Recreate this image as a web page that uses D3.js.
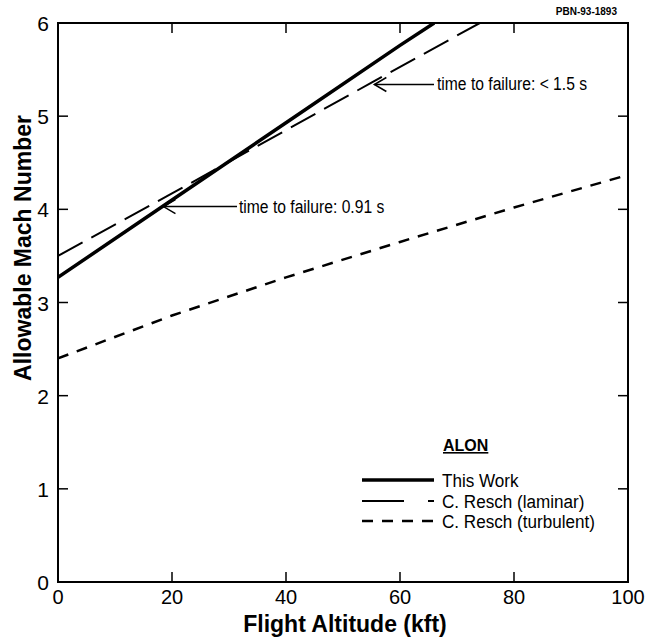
<!DOCTYPE html>
<html lang="en">
<head>
<meta charset="utf-8">
<script src="https://cdn.jsdelivr.net/npm/d3@7"></script>
<style>
  body { margin: 0; background: white; }
  text { font-family: "Liberation Sans", Arial, Helvetica, sans-serif; fill: black; }
</style>
</head>
<body>
<div id="chart"></div>
<script>
// data
var xTicks = [0, 20, 40, 60, 80, 100];
var yTicks = [0, 1, 2, 3, 4, 5, 6];
var thisWork = [[0, 3.27], [20, 4.1], [40, 4.93], [60, 5.76], [66, 6.0]];
var reschLaminar = [[0, 3.5], [20, 4.17], [40, 4.85], [55, 5.36], [74, 6.0]];
var reschTurbulent = [[0, 2.4], [20, 2.86], [40, 3.27], [60, 3.65], [80, 4.02], [100, 4.37]];
var legendNames = ["This Work", "C. Resch (laminar)", "C. Resch (turbulent)"];

var width = 646, height = 641;
var margin = {top: 23, right: 18, bottom: 59, left: 58};

var svg = d3.select("#chart").append("svg")
    .attr("width", width)
    .attr("height", height);

var x = d3.scaleLinear().domain([0, 100]).range([margin.left, width - margin.right]);
var y = d3.scaleLinear().domain([0, 6]).range([height - margin.bottom, margin.top]);

// clip
svg.append("clipPath").attr("id", "clip")
  .append("rect")
    .attr("x", x(0)).attr("y", y(6))
    .attr("width", x(100) - x(0)).attr("height", y(0) - y(6));

// frame
svg.append("rect")
    .attr("x", x(0)).attr("y", y(6))
    .attr("width", x(100) - x(0)).attr("height", y(0) - y(6))
    .attr("fill", "none").attr("stroke", "black").attr("stroke-width", 2);

// inward ticks on all sides
var tickLen = 10;
var axes = svg.append("g").attr("stroke", "black").attr("stroke-width", 1.5);
xTicks.slice(1, -1).forEach(function(t) {
  axes.append("line").attr("x1", x(t)).attr("x2", x(t)).attr("y1", y(0)).attr("y2", y(0) - tickLen);
  axes.append("line").attr("x1", x(t)).attr("x2", x(t)).attr("y1", y(6)).attr("y2", y(6) + tickLen);
});
yTicks.slice(1, -1).forEach(function(t) {
  axes.append("line").attr("x1", x(0)).attr("x2", x(0) + tickLen).attr("y1", y(t)).attr("y2", y(t));
  axes.append("line").attr("x1", x(100)).attr("x2", x(100) - tickLen).attr("y1", y(t)).attr("y2", y(t));
});

// tick labels
svg.append("g").selectAll("text").data(xTicks).enter().append("text")
    .attr("x", function(d) { return x(d); })
    .attr("y", y(0) + 22)
    .attr("text-anchor", "middle")
    .style("font-size", "20px")
    .text(function(d) { return d; });

svg.append("g").selectAll("text").data(yTicks).enter().append("text")
    .attr("x", x(0) - 9)
    .attr("y", function(d) { return y(d) + 8; })
    .attr("text-anchor", "end")
    .style("font-size", "21px")
    .text(function(d) { return d; });

// axis titles
svg.append("text")
    .attr("x", 345).attr("y", 632)
    .attr("text-anchor", "middle")
    .style("font-size", "23px").style("font-weight", "bold")
    .text("Flight Altitude (kft)");

svg.append("text")
    .attr("transform", "translate(31,248) rotate(-90)")
    .attr("text-anchor", "middle")
    .style("font-size", "23px").style("font-weight", "bold")
    .text("Allowable Mach Number");

svg.append("text")
    .attr("x", 617).attr("y", 15)
    .attr("text-anchor", "end")
    .style("font-size", "10px").style("font-weight", "bold")
    .text("PBN-93-1893");

// lines
var line = d3.line().x(function(d) { return x(d[0]); }).y(function(d) { return y(d[1]); });
var styles = [
  {data: thisWork, width: 3.5, dash: null},
  {data: reschLaminar, width: 2, dash: "28,10"},
  {data: reschTurbulent, width: 2.5, dash: "11,9"}
];
var plot = svg.append("g").attr("clip-path", "url(#clip)");
styles.forEach(function(s) {
  plot.append("path")
      .attr("d", line(s.data))
      .attr("fill", "none")
      .attr("stroke", "black")
      .attr("stroke-width", s.width)
      .attr("stroke-dasharray", s.dash);
});

// annotations
function arrow(x1, y1, x2, y2) {
  var g = svg.append("g").attr("stroke", "black").attr("fill", "none").attr("stroke-width", 1.5);
  g.append("line").attr("x1", x1).attr("y1", y1).attr("x2", x2).attr("y2", y2);
  g.append("path").attr("d", "M" + (x2 + 12) + "," + (y2 - 7) + "L" + x2 + "," + y2 + "L" + (x2 + 12) + "," + (y2 + 7));
}
arrow(237, y(4.03), x(18.5), y(4.03));
arrow(434, y(5.34), x(55.5), y(5.34));

function note(xp, yp, str) {
  svg.append("text")
      .attr("transform", "translate(" + xp + "," + yp + ") scale(0.87,1)")
      .style("font-size", "18px")
      .text(str);
}
note(239, y(4.03) + 6, "time to failure: 0.91 s");
note(437, y(5.34) + 6, "time to failure: < 1.5 s");

// legend
svg.append("text")
    .attr("x", 443).attr("y", 451)
    .style("font-size", "16px").style("font-weight", "bold")
    .style("text-decoration", "underline")
    .text("ALON");

var legY = [480, 501, 521];
var lg = svg.append("g");
styles.forEach(function(s, i) {
  lg.append("line")
      .attr("x1", 362).attr("x2", 434)
      .attr("y1", legY[i]).attr("y2", legY[i])
      .attr("stroke", "black")
      .attr("stroke-width", s.width)
      .attr("stroke-dasharray", i == 1 ? "42,24,6,20" : s.dash);
  lg.append("text")
      .attr("transform", "translate(442," + (legY[i] + 7) + ") scale(0.9,1)")
      .style("font-size", "19px")
      .text(legendNames[i]);
});
</script>
</body>
</html>
